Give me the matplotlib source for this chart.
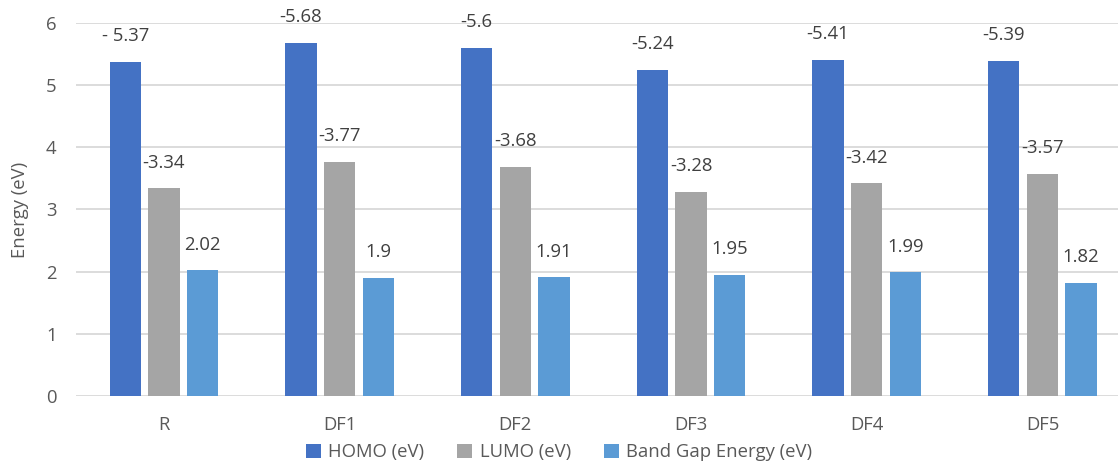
import numpy as np
import matplotlib.pyplot as plt

plt.rcParams['font.family'] = ['Open Sans', 'DejaVu Sans']

# band energies per compound
categories = ['R', 'DF1', 'DF2', 'DF3', 'DF4', 'DF5']
homo = [-5.37, -5.68, -5.6, -5.24, -5.41, -5.39]
lumo = [-3.34, -3.77, -3.68, -3.28, -3.42, -3.57]
gap = [2.02, 1.9, 1.91, 1.95, 1.99, 1.82]

series = [
    ('HOMO (eV)', homo, '#4472C4'),
    ('LUMO (eV)', lumo, '#A5A5A5'),
    ('Band Gap Energy (eV)', gap, '#5B9BD5'),
]

text_col = '#595959'
grid_col = '#D9D9D9'

fig = plt.figure(figsize=(11.18, 4.66), dpi=100)
ax = fig.add_axes([0.068, 0.150, 0.943, 0.801])

x = np.arange(len(categories))
width = 0.178
step = 0.22

for i, (name, vals, col) in enumerate(series):
    pos = x + (i - 1) * step
    heights = np.abs(vals)
    ax.bar(pos, heights, width, color=col, label=name, zorder=3)
    labels = [f'{v:g}' for v in vals]
    if i == 0:
        # first HOMO label was typed with a space after the minus
        labels[0] = labels[0].replace('-', '- ')
    for px, h, lab in zip(pos, heights, labels):
        ax.annotate(lab, (px, h), xytext=(0, 12), textcoords='offset points',
                    ha='center', va='bottom', fontsize=13.3, color='#404040')

ax.set_xlim(-0.5, len(categories) - 0.5)
ax.set_ylim(0, 6)
ax.set_yticks(range(7))
ax.set_xticks(x)
ax.set_xticklabels(categories)
ax.yaxis.grid(True, color=grid_col, linewidth=1.3, zorder=0)
ax.tick_params(axis='both', length=0, labelsize=13.3, colors=text_col)
ax.tick_params(axis='x', pad=14)
ax.tick_params(axis='y', pad=14)
for s in ax.spines.values():
    s.set_visible(False)

ax.set_ylabel('Energy (eV)', fontsize=13.3, color=text_col, labelpad=12)

fig.legend(loc='center', bbox_to_anchor=(0.5, 0.03), ncol=3, frameon=False,
           fontsize=13.3, labelcolor=text_col, handlelength=0.8, handleheight=0.8,
           handletextpad=0.4, columnspacing=1.8)

fig.savefig('out.png', dpi=100)
